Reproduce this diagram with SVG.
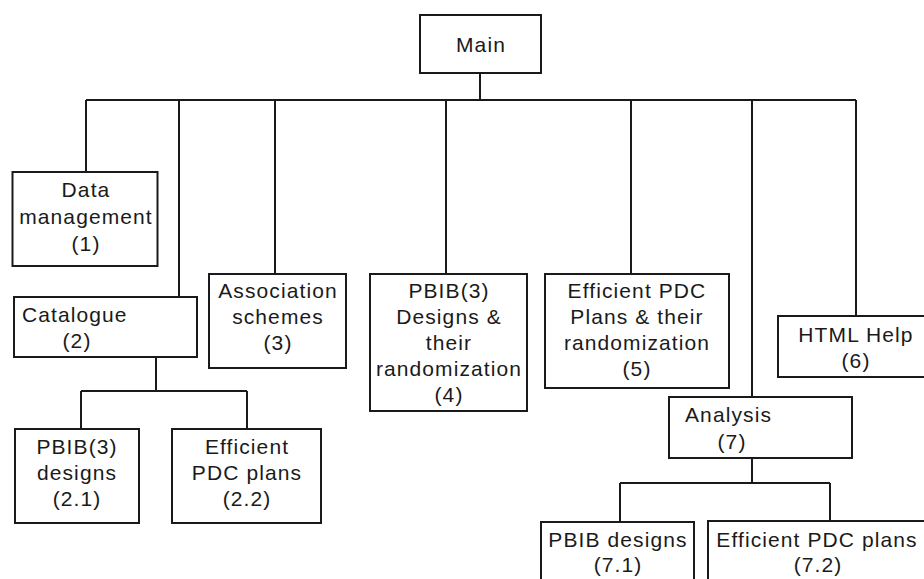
<svg xmlns="http://www.w3.org/2000/svg" width="924" height="579" viewBox="0 0 924 579">
<style>
  .box { fill: #ffffff; stroke: #1a1a1a; stroke-width: 2; }
  .conn { fill: none; stroke: #1a1a1a; stroke-width: 2; }
  text { font-family: "Liberation Sans", Arial, sans-serif; font-size: 21px; fill: #1a1a1a; letter-spacing: 1.1px; }
  .c { text-anchor: middle; }
</style>
<rect width="924" height="579" fill="#ffffff"/>
<g id="connectors">
  <path class="conn" d="M480,73 V100 M86,100 H856 M86,100 V172 M179,100 V297 M275,100 V274 M446,100 V274 M631,100 V274 M752,100 V397 M856,100 V316"/>
  <path class="conn" d="M156,357 V391 M81,391 H247 M81,391 V429 M247,391 V429"/>
  <path class="conn" d="M752,458 V483 M620,483 H830 M620,483 V522 M830,483 V521"/>
</g>
<g id="main">
  <rect class="box" x="420" y="15" width="121" height="58"/>
  <text class="c" x="481" y="52">Main</text>
</g>
<g id="data-management">
  <rect class="box" x="12.5" y="172" width="145" height="94"/>
  <text class="c" x="86" y="197">Data</text>
  <text class="c" x="86" y="224">management</text>
  <text class="c" x="86" y="251">(1)</text>
</g>
<g id="catalogue">
  <rect class="box" x="14" y="297" width="183" height="60"/>
  <text x="22" y="322">Catalogue</text>
  <text class="c" x="77" y="348">(2)</text>
</g>
<g id="association-schemes">
  <rect class="box" x="209" y="274" width="137" height="94"/>
  <text class="c" x="278" y="298">Association</text>
  <text class="c" x="278" y="324">schemes</text>
  <text class="c" x="278" y="350">(3)</text>
</g>
<g id="pbib3-designs-randomization">
  <rect class="box" x="370" y="274" width="157" height="137"/>
  <text class="c" x="449" y="298">PBIB(3)</text>
  <text class="c" x="449" y="324">Designs &amp;</text>
  <text class="c" x="449" y="350">their</text>
  <text class="c" x="449" y="376">randomization</text>
  <text class="c" x="449" y="402">(4)</text>
</g>
<g id="efficient-pdc-plans-randomization">
  <rect class="box" x="545" y="274" width="184" height="114"/>
  <text class="c" x="637" y="298">Efficient PDC</text>
  <text class="c" x="637" y="324">Plans &amp; their</text>
  <text class="c" x="637" y="350">randomization</text>
  <text class="c" x="637" y="376">(5)</text>
</g>
<g id="html-help">
  <rect class="box" x="778" y="316" width="160" height="61"/>
  <text class="c" x="856" y="342">HTML Help</text>
  <text class="c" x="856" y="368">(6)</text>
</g>
<g id="analysis">
  <rect class="box" x="669" y="397" width="183" height="61"/>
  <text x="685" y="422">Analysis</text>
  <text class="c" x="732" y="449">(7)</text>
</g>
<g id="pbib3-designs">
  <rect class="box" x="15" y="429" width="124" height="94"/>
  <text class="c" x="77" y="454">PBIB(3)</text>
  <text class="c" x="77" y="480">designs</text>
  <text class="c" x="77" y="506">(2.1)</text>
</g>
<g id="efficient-pdc-plans-catalogue">
  <rect class="box" x="172" y="429" width="149" height="94"/>
  <text class="c" x="247" y="454">Efficient</text>
  <text class="c" x="247" y="480">PDC plans</text>
  <text class="c" x="247" y="506">(2.2)</text>
</g>
<g id="pbib-designs-analysis">
  <rect class="box" x="541" y="522" width="153" height="80"/>
  <text class="c" x="618" y="547">PBIB designs</text>
  <text class="c" x="618" y="572">(7.1)</text>
</g>
<g id="efficient-pdc-plans-analysis">
  <rect class="box" x="708" y="521" width="240" height="80"/>
  <text class="c" x="817" y="547">Efficient PDC plans</text>
  <text class="c" x="818" y="572">(7.2)</text>
</g>
</svg>
